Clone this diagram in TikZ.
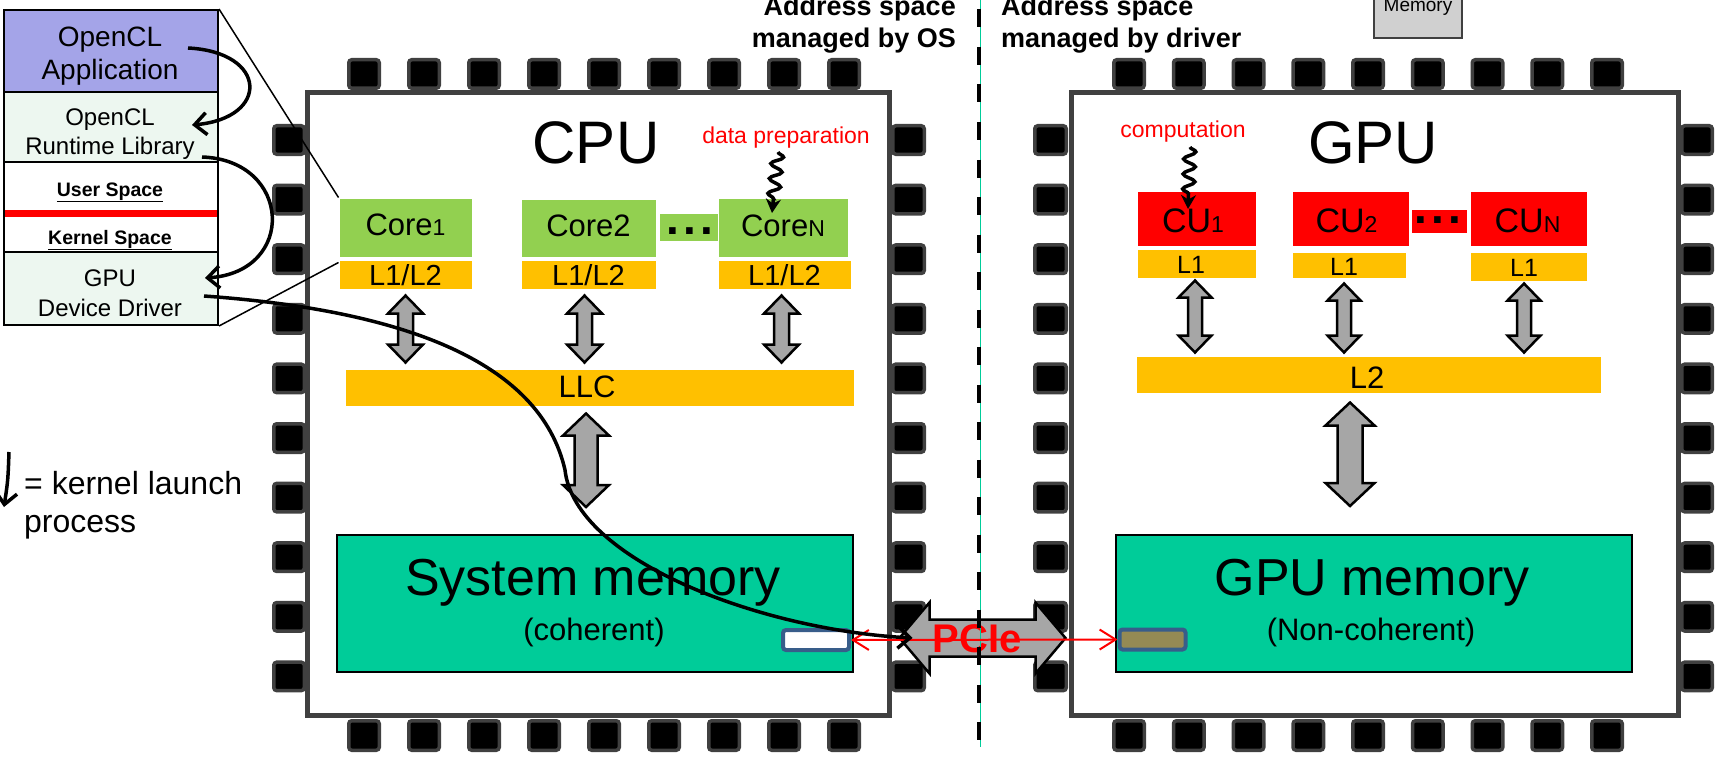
\documentclass[tikz,border=0pt]{standalone}
\usepackage{fontspec}
\setmainfont{Liberation Sans}
\usetikzlibrary{calc,arrows.meta,decorations.pathmorphing}
\definecolor{pinGray}{HTML}{404040}
\definecolor{coreGreen}{HTML}{92D050}
\definecolor{cacheOrange}{HTML}{FFC000}
\definecolor{memTeal}{HTML}{00CC99}
\definecolor{appPurple}{HTML}{A4A4E8}
\definecolor{mint}{HTML}{EDF7F0}
\definecolor{arrowGray}{HTML}{A6A6A6}
\definecolor{boxBlue}{HTML}{385D8A}
\definecolor{oliveFill}{HTML}{948A54}
\definecolor{memGray}{HTML}{D0D0D0}
\newcommand{\fsz}[2]{\fontsize{#1}{#2}\selectfont}
\newcommand{\smallsub}[1]{{\fontsize{23}{23}\selectfont #1}}
% vertical double block arrow: #1 top, #2 bottom, #3 head half width, #4 shaft half width, #5 head length
\newcommand{\vblockarrow}[5]{\draw[blockarrow] let \p1=(#1), \p2=(#2) in
  (\x1,\y1) -- (\x1+#3pt,\y1-#5pt) -- (\x1+#4pt,\y1-#5pt) -- (\x1+#4pt,\y2+#5pt) -- (\x1+#3pt,\y2+#5pt) -- (\x1,\y2)
  -- (\x1-#3pt,\y2+#5pt) -- (\x1-#4pt,\y2+#5pt) -- (\x1-#4pt,\y1-#5pt) -- (\x1-#3pt,\y1-#5pt) -- cycle;}
% horizontal double block arrow: #1 left, #2 right
\newcommand{\hblockarrow}[5]{\draw[blockarrow] let \p1=(#1), \p2=(#2) in
  (\x1,\y1) -- (\x1+#5pt,\y1+#3pt) -- (\x1+#5pt,\y1+#4pt) -- (\x2-#5pt,\y1+#4pt) -- (\x2-#5pt,\y1+#3pt) -- (\x2,\y1)
  -- (\x2-#5pt,\y1-#3pt) -- (\x2-#5pt,\y1-#4pt) -- (\x1+#5pt,\y1-#4pt) -- (\x1+#5pt,\y1-#3pt) -- cycle;}
\begin{document}
\begin{tikzpicture}[x=1pt,y=-1pt,
  chip/.style={draw=pinGray, line width=5pt, fill=white, inner sep=0pt},
  chippin/.style={draw=pinGray, fill=black, line width=3.5pt, rounded corners=3pt},
  stackbox/.style={draw=black, line width=2pt, minimum width=214pt, inner sep=0pt},
  corebox/.style={fill=coreGreen, draw=white, line width=1pt, inner sep=0pt},
  cachebox/.style={fill=cacheOrange, draw=white, line width=1pt, inner sep=0pt},
  cubox/.style={fill=red, draw=white, line width=1pt, inner sep=0pt},
  membox/.style={fill=memTeal, draw=black, line width=2pt, inner sep=0pt, minimum width=516pt, minimum height=137pt},
  bufbox/.style={draw=boxBlue, line width=4pt, rounded corners=3pt, inner sep=0pt, minimum width=66pt, minimum height=20pt},
  lbl/.style={anchor=base, inner sep=0pt},
  blockarrow/.style={fill=arrowGray, draw=black, line width=2.5pt, line join=miter},
  launch/.style={line width=3.5pt, -{Straight Barb[length=12pt,width=22pt]}},
  squiggle/.style={line width=3.5pt, decorate, decoration={snake, amplitude=6pt, segment length=15pt, post length=12pt}, -{Stealth[length=14pt,width=15pt]}},
  pcielink/.style={red, line width=2pt, {Straight Barb[length=16pt,width=20pt]}-{Straight Barb[length=16pt,width=20pt]}},
]
\useasboundingbox (0,0) rectangle (1720,757);

% ---------- pins ----------
\foreach \px in {364,424,...,844} {
  \draw[chippin] (\px-15.25,59.75) rectangle (\px+15.25,88.25);
  \draw[chippin] (\px-15.25,720.75) rectangle (\px+15.25,750.25);
}
\foreach \k in {0,...,8} {
  \pgfmathsetmacro\px{1129+59.75*\k}
  \draw[chippin] (\px-15.25,59.75) rectangle (\px+15.25,88.25);
  \draw[chippin] (\px-15.25,720.75) rectangle (\px+15.25,750.25);
}
\foreach \k in {0,...,9} {
  \pgfmathsetmacro\py{140+59.6*\k}
  \draw[chippin] (273.75,\py-14.25) rectangle (304.25,\py+14.25);
  \draw[chippin] (892.75,\py-14.25) rectangle (924.25,\py+14.25);
  \draw[chippin] (1034.75,\py-14.25) rectangle (1066.25,\py+14.25);
  \draw[chippin] (1681.75,\py-14.25) rectangle (1712.25,\py+14.25);
}

% ---------- chips ----------
\node[chip, minimum width=582pt, minimum height=622pt] (cpu) at (598,404) {};
\node[chip, minimum width=607pt, minimum height=622pt] (gpu) at (1374.5,404) {};

% ---------- software stack ----------
\node[stackbox, fill=appPurple, minimum height=82pt] (app) at (111,51) {};
\node[stackbox, fill=mint, minimum height=70pt] (rt) at (111,127) {};
\node[stackbox, fill=white, minimum height=90pt] (space) at (111,207) {};
\node[stackbox, fill=mint, minimum height=73pt] (drv) at (111,288.5) {};
\node[lbl, font=\fsz{28}{28}] (app1) at (110,47) {OpenCL};
\node[lbl, font=\fsz{28}{28}] (app2) at (110,80) {Application};
\node[lbl, font=\fsz{24}{24}] (rt1) at (110,125) {OpenCL};
\node[lbl, font=\fsz{24}{24}] (rt2) at (110,154) {Runtime Library};
\node[lbl, font=\bfseries\fsz{19.5}{20}] (us) at (110,196) {\underline{User Space}};
\node[lbl, font=\bfseries\fsz{19.5}{20}] (ks) at (110,244) {\underline{Kernel Space}};
\draw[red, line width=7pt] ([xshift=2pt,yshift=-6pt]space.west) -- ([xshift=-2pt,yshift=-6pt]space.east);
\node[lbl, font=\fsz{24}{24}] (drv1) at (110,286) {GPU};
\node[lbl, font=\fsz{24}{24}] (drv2) at (110,316) {Device Driver};

% ---------- headers ----------
\node[anchor=base east, inner sep=0pt, font=\bfseries\fsz{27}{27}] (os1) at (956,16) {Address space};
\node[anchor=base east, inner sep=0pt, font=\bfseries\fsz{27}{27}] (os2) at (956,48) {managed by OS};
\node[anchor=base west, inner sep=0pt, font=\bfseries\fsz{27}{27}] (dr1) at (1001,16) {Address space};
\node[anchor=base west, inner sep=0pt, font=\bfseries\fsz{27}{27}] (dr2) at (1001,48) {managed by driver};
\node[draw=pinGray, line width=2pt, fill=memGray, minimum width=88pt, minimum height=46pt, inner sep=0pt] (mem) at (1418,15) {};
\node[lbl, font=\fsz{19}{19}] (memt) at (1418,12) {Memory};

% ---------- CPU ----------
\node[lbl, font=\fsz{60}{60}] (cputxt) at (596,163.5) {CPU};
\node[lbl, font=\fsz{23}{23}, text=red] (dprep) at (786,143) {data preparation};
\node[corebox, minimum width=133pt, minimum height=59pt] (core1) at (405.5,227.5) {};
\node[cachebox, minimum width=133pt, minimum height=29pt] (c1l2) at (405.5,274.5) {};
\node[corebox, minimum width=135pt, minimum height=58pt] (core2) at (588.5,228) {};
\node[cachebox, minimum width=135pt, minimum height=29pt] (c2l2) at (588.5,274.5) {};
\node[corebox, minimum width=62pt, minimum height=28pt] (cdots) at (690,227) {};
\node[corebox, minimum width=130pt, minimum height=59pt] (coreN) at (783,227.5) {};
\node[cachebox, minimum width=133pt, minimum height=29pt] (cNl2) at (784.5,274.5) {};
\node[lbl, font=\fsz{31}{31}] (core1t) at (405.5,235) {Core\smallsub{1}};
\node[lbl, font=\fsz{31}{31}] (core2t) at (588.5,236) {Core2};
\node[lbl, font=\bfseries\fsz{46}{46}] (cdotst) at (690,234) {.\hspace{4pt}.\hspace{4pt}.};
\node[lbl, font=\fsz{31}{31}] (coreNt) at (783,236) {Core\smallsub{N}};
\node[lbl, font=\fsz{29}{29}] (c1l2t) at (405.5,285) {L1/L2};
\node[lbl, font=\fsz{29}{29}] (c2l2t) at (588.5,285) {L1/L2};
\node[lbl, font=\fsz{29}{29}] (cNl2t) at (784.5,285) {L1/L2};
\node[cachebox, minimum width=509pt, minimum height=37pt] (llc) at (599.5,387.5) {};
\node[lbl, font=\fsz{31}{31}] (llct) at (587,397) {LLC};
\node[membox] (sysmem) at (595,603.5) {};
\node[lbl, font=\fsz{52}{52}] (sysmemt) at (593,595) {System memory};
\node[lbl, font=\fsz{31}{31}] (sysmemc) at (594,640) {(coherent)};
\node[bufbox, fill=white] (sysbuf) at (816,640) {};

% ---------- GPU ----------
\node[lbl, font=\fsz{60}{60}] (gputxt) at (1373,163.5) {GPU};
\node[lbl, font=\fsz{23}{23}, text=red] (comp) at (1183,137) {computation};
\node[cubox, minimum width=119pt, minimum height=55pt] (cu1) at (1196.5,218.5) {};
\node[cachebox, minimum width=119pt, minimum height=29pt] (cu1l1) at (1196.5,263.5) {};
\node[cubox, minimum width=117pt, minimum height=55pt] (cu2) at (1350.5,218.5) {};
\node[cachebox, minimum width=114pt, minimum height=26pt] (cu2l1) at (1349,265) {};
\node[cubox, minimum width=56pt, minimum height=24pt] (cudots) at (1439,221) {};
\node[cubox, minimum width=117pt, minimum height=55pt] (cuN) at (1528.5,218.5) {};
\node[cachebox, minimum width=117pt, minimum height=29pt] (cuNl1) at (1528.5,266.5) {};
\node[lbl, font=\fsz{34}{34}] (cu1t) at (1193,232) {CU\smallsub{1}};
\node[lbl, font=\fsz{34}{34}] (cu2t) at (1346.5,232) {CU\smallsub{2}};
\node[lbl, font=\bfseries\fsz{46}{46}] (cudotst) at (1438,223) {.\hspace{4pt}.\hspace{4pt}.};
\node[lbl, font=\fsz{34}{34}] (cuNt) at (1527.5,232) {CU\smallsub{N}};
\node[lbl, font=\fsz{25}{25}] (cu1l1t) at (1191,273) {L1};
\node[lbl, font=\fsz{25}{25}] (cu2l1t) at (1344,275) {L1};
\node[lbl, font=\fsz{25}{25}] (cuNl1t) at (1524,276) {L1};
\node[cachebox, minimum width=465pt, minimum height=37pt] (l2) at (1368.5,374.5) {};
\node[lbl, font=\fsz{31}{31}] (l2t) at (1367,388) {L2};
\node[membox] (gpumem) at (1374,603.5) {};
\node[lbl, font=\fsz{52}{52}] (gpumemt) at (1372,595) {GPU memory};
\node[lbl, font=\fsz{31}{31}] (gpumemc) at (1371,640) {(Non-coherent)};
\node[bufbox, fill=oliveFill] (gpubuf) at (1152.5,639.5) {};

% ---------- zoom lines ----------
\draw[line width=1.5pt] (app.north east) -- (core1.north west);
\draw[line width=1.5pt] (drv.south east) -- ([yshift=-3pt]c1l2.north west);

% ---------- block arrows ----------
\coordinate (a1t) at ([yshift=-6pt]c1l2.south);
\coordinate (a1b) at ($(c1l2.south |- llc.north)+(0,-6)$);
\coordinate (a2t) at ([xshift=-4pt,yshift=-6pt]c2l2.south);
\coordinate (a2b) at ($(a2t |- llc.north)+(0,-6)$);
\coordinate (a3t) at ([xshift=-3pt,yshift=-6pt]cNl2.south);
\coordinate (a3b) at ($(a3t |- llc.north)+(0,-6)$);
\vblockarrow{a1t}{a1b}{17.5}{7.5}{18}
\vblockarrow{a2t}{a2b}{17.5}{7.5}{18}
\vblockarrow{a3t}{a3b}{17.5}{7.5}{18}
\coordinate (a4t) at ($(llct.base |- llc.south)+(-1,7)$);
\coordinate (a4b) at ($(a4t |- sysmem.north)+(0,-27)$);
\vblockarrow{a4t}{a4b}{23}{11.5}{22}

\coordinate (g1t) at ([xshift=-1.5pt,yshift=-2pt]cu1l1.south);
\coordinate (g1b) at ($(g1t |- l2.north)+(0,-3)$);
\coordinate (g2t) at ([xshift=-5pt,yshift=-5pt]cu2l1.south);
\coordinate (g2b) at ($(g2t |- l2.north)+(0,-3)$);
\coordinate (g3t) at ([xshift=-4.5pt,yshift=-2pt]cuNl1.south);
\coordinate (g3b) at ($(g3t |- l2.north)+(0,-3)$);
\vblockarrow{g1t}{g1b}{16.5}{7}{17}
\vblockarrow{g2t}{g2b}{16.5}{7}{17}
\vblockarrow{g3t}{g3b}{16.5}{7}{17}
\coordinate (g4t) at ($(l2t.base |- l2.south)+(-17,9)$);
\coordinate (g4b) at ($(g4t |- gpumem.north)+(0,-28)$);
\vblockarrow{g4t}{g4b}{24.5}{12.5}{23}

% ---------- PCIe ----------
\coordinate (pcieL) at ($(cpu.east |- sysbuf.center)+(8,-2)$);
\coordinate (pcieR) at ($(gpu.west |- sysbuf.center)+(-3,-2)$);
\hblockarrow{pcieL}{pcieR}{35.5}{18.5}{30}
\node[lbl, font=\bfseries\fsz{40}{40}, text=red] (pcietxt) at (977,652) {PCIe};

% ---------- address space divider ----------
\draw[memTeal, line width=1pt] (980.5,0) -- (980.5,747);
\draw[black, line width=4pt, dash pattern=on 18pt off 19.5pt] (979,-28) -- (979,747);

\draw[pcielink] (sysbuf.east) -- (gpubuf.west);

% ---------- squiggle arrows ----------
\coordinate (dps) at (778,152);
\coordinate (dpe) at (772,213);
\draw[squiggle] (dps) -- (dpe);
\coordinate (cps) at (1190,147);
\coordinate (cpe) at (1188,209);
\draw[squiggle] (cps) -- (cpe);

% ---------- kernel launch arrows ----------
\coordinate (k1s) at (188,48);
\coordinate (k1e) at (192,125);
\draw[launch] (k1s) .. controls (268,52) and (270,118) .. (k1e);
\coordinate (k2s) at (202,157);
\coordinate (k2e) at (205,278);
\draw[launch] (k2s) .. controls (292,160) and (297,272) .. (k2e);
\coordinate (k3s) at (204,296);
\coordinate (k3m) at (565,470);
\coordinate (k3e) at ($(pcieL)+(13,0)$);
\draw[launch] (k3s) .. controls (400,310) and (540,360) .. (k3m) .. controls (575,560) and (760,630) .. (k3e);

% ---------- legend ----------
\coordinate (legs) at (9,452);
\coordinate (lege) at (4,507);
\draw[launch] (legs) .. controls (8,480) .. (lege);
\node[anchor=base west, inner sep=0pt, font=\fsz{32}{32}] (leg1) at (24,494) {= kernel launch};
\node[anchor=base west, inner sep=0pt, font=\fsz{32}{32}] (leg2) at (24,532) {process};
\end{tikzpicture}
\end{document}
